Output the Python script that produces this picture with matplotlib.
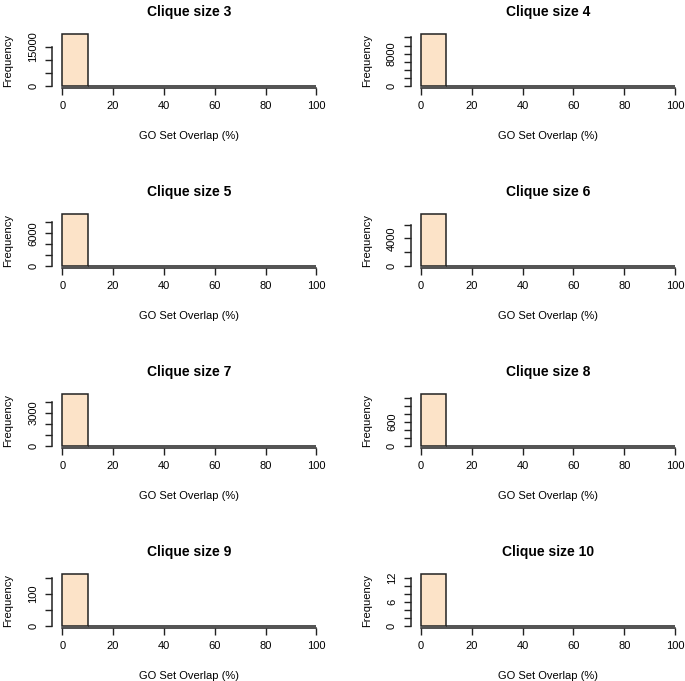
import numpy as np
import matplotlib
matplotlib.use("Agg")
import matplotlib.pyplot as plt

plt.rcParams["font.family"] = ["Liberation Sans", "DejaVu Sans"]

# ---- data ----
clique_sizes = [3, 4, 5, 6, 7, 8, 9, 10]
bin_edges = [0, 10, 20, 30, 40, 50, 60, 70, 80, 90, 100]
counts_3 = [19700, 110, 25, 6, 2, 1, 0, 0, 0, 0]
counts_4 = [12800, 70, 15, 4, 1, 0, 0, 0, 0, 0]
counts_5 = [9500, 50, 10, 3, 1, 0, 0, 0, 0, 0]
counts_6 = [7500, 40, 8, 2, 0, 0, 0, 0, 0, 0]
counts_7 = [4700, 25, 5, 1, 0, 0, 0, 0, 0, 0]
counts_8 = [1300, 8, 2, 0, 0, 0, 0, 0, 0, 0]
counts_9 = [163, 1, 0, 0, 0, 0, 0, 0, 0, 0]
counts_10 = [13, 0, 0, 0, 0, 0, 0, 0, 0, 0]
all_counts = [counts_3, counts_4, counts_5, counts_6,
              counts_7, counts_8, counts_9, counts_10]
y_tick_step = [5000, 2000, 2000, 2000, 1000, 200, 50, 2]
y_tick_labels_shown = [[0, 15000], [0, 8000], [0, 6000], [0, 4000],
                       [0, 3000], [0, 600], [0, 100], [0, 6, 12]]
x_ticks = [0, 20, 40, 60, 80, 100]

# ---- layout (pixels) ----
W, H = 685, 681
fig = plt.figure(figsize=(W / 100, H / 100), dpi=100)
col_left = [52.1, 410.8]
ax_w = 274.4
row_top0 = 32.2
row_step = 180
ax_h = 55.8

fill = "#FCE3C8"
dark = "#222222"

for i, (cs, counts) in enumerate(zip(clique_sizes, all_counts)):
    r, c = divmod(i, 2)
    top = row_top0 + r * row_step
    ax = fig.add_axes([col_left[c] / W, 1 - (top + ax_h) / H, ax_w / W, ax_h / H])
    M = max(counts)
    lefts = bin_edges[:-1]
    widths = np.diff(bin_edges)
    ax.bar(lefts, counts, width=widths, align="edge", color=fill,
           edgecolor=dark, linewidth=1.1)
    ax.set_xlim(-4, 104)
    ax.set_ylim(-0.04 * M, 1.04 * M)
    for s in ["top", "right"]:
        ax.spines[s].set_visible(False)
    step = y_tick_step[i]
    yt = np.arange(0, M + 1e-9, step)
    ax.set_yticks(yt)
    ax.set_yticklabels([f"{int(v)}" if v in y_tick_labels_shown[i] else "" for v in yt],
                       rotation=90, va="center", fontsize=8)
    ax.set_xticks(x_ticks)
    ax.set_xticklabels([str(v) for v in x_ticks], fontsize=8)
    ax.spines["left"].set_bounds(0, yt[-1])
    ax.spines["bottom"].set_bounds(0, 100)
    for s in ["left", "bottom"]:
        ax.spines[s].set_color(dark)
        ax.spines[s].set_linewidth(1.1)
    ax.tick_params(axis="both", direction="out", length=5, width=1.0, color=dark,
                   labelcolor="black")
    ax.tick_params(axis="x", pad=4.5)
    ax.tick_params(axis="y", pad=5)
    ax.set_ylabel("Frequency", fontsize=8, va="center")
    ax.yaxis.set_label_coords(-44 / ax_w, 0.5)
    ax.set_xlabel("GO Set Overlap (%)", fontsize=8, va="center")
    ax.xaxis.set_label_coords(0.5, -48 / ax_h)
    ax.text(0.5, 1 + 20 / ax_h, f"Clique size {cs}", transform=ax.transAxes,
            ha="center", va="center", fontsize=10, fontweight="bold")

fig.savefig("out.png", dpi=100)
